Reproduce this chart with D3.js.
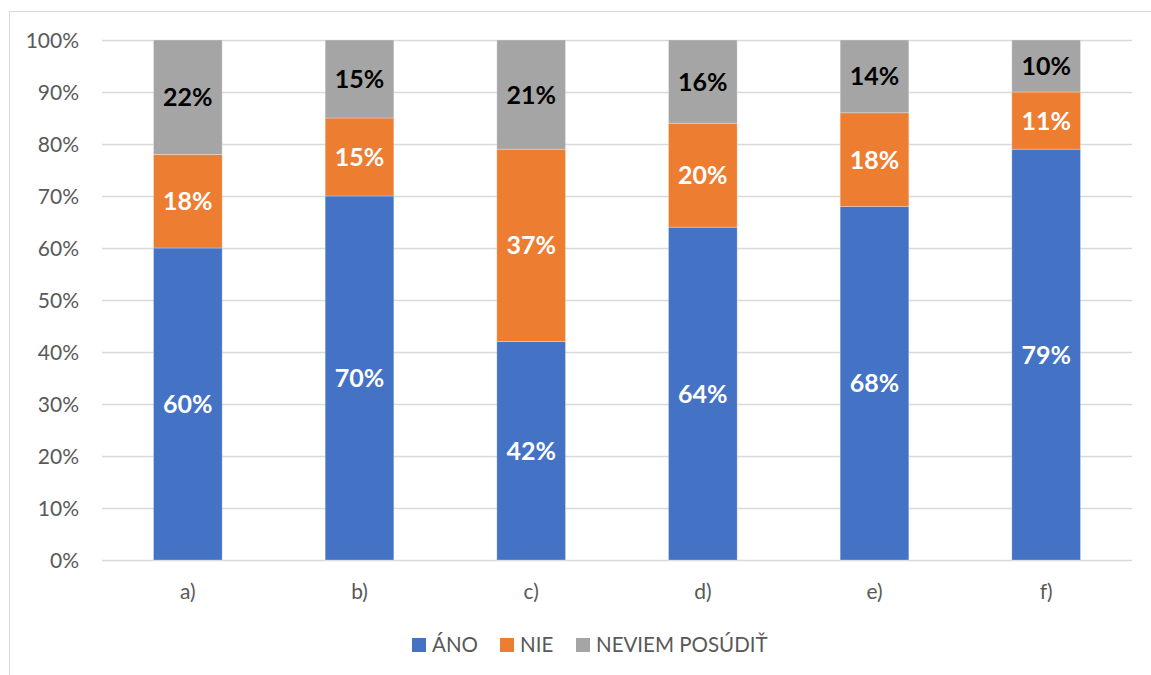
<!DOCTYPE html>
<html><head><meta charset="utf-8">
<script src="https://cdn.jsdelivr.net/npm/d3@7"></script>
<style>
html,body{margin:0;padding:0;background:#fff;}
svg{display:block;}
</style>
</head><body>
<svg id="chart" width="1151" height="675"></svg>
<script>
const categories = ["a)", "b)", "c)", "d)", "e)", "f)"];
const seriesNames = ["ÁNO", "NIE", "NEVIEM POSÚDIŤ"];
const ano = [60, 70, 42, 64, 68, 79];
const nie = [18, 15, 37, 20, 18, 11];
const neviem = [22, 15, 21, 16, 14, 10];
const yTicks = [0, 10, 20, 30, 40, 50, 60, 70, 80, 90, 100];
const colors = ["#4472C4", "#ED7D31", "#A5A5A5"];
const labelColors = ["#FFFFFF", "#FFFFFF", "#000000"];

const svg = d3.select("#chart");
const W = 1151, H = 675;
const m = {left: 102, right: 1132, top: 40, bottom: 560};

// chart border
svg.append("rect").attr("x", 9.5).attr("y", 11.5).attr("width", W).attr("height", H)
  .attr("fill", "#fff").attr("stroke", "#D9D9D9").attr("stroke-width", 1);

const x = d3.scaleBand().domain(categories).range([m.left, m.right]).paddingInner(0.6).paddingOuter(0.3);
const y = d3.scaleLinear().domain([0, 100]).range([m.bottom, m.top]);

// gridlines
svg.append("g").selectAll("line").data(yTicks).join("line")
  .attr("x1", m.left).attr("x2", m.right)
  .attr("y1", d => Math.round(y(d)) + 0.5).attr("y2", d => Math.round(y(d)) + 0.5)
  .attr("stroke", "#D9D9D9").attr("stroke-width", 1.3);

// y axis labels
const yAxis = d3.axisLeft(y).tickValues(yTicks).tickFormat(d => d + "%").tickSize(0).tickPadding(0);
const gy = svg.append("g").attr("transform", `translate(79,0)`).call(yAxis);
gy.select(".domain").remove();
gy.selectAll("text").attr("fill", "#595959").style("font-family", "Lato, 'Open Sans', sans-serif")
  .style("font-size", "21px").attr("dy", "0.35em");

// stack
const rows = categories.map((c, i) => ({cat: c, s0: ano[i], s1: nie[i], s2: neviem[i]}));
const stack = d3.stack().keys(["s0", "s1", "s2"]);
const layers = stack(rows);

const gl = svg.append("g").selectAll("g").data(layers).join("g")
  .attr("fill", (d, i) => colors[i]);
gl.selectAll("rect").data(d => d).join("rect")
  .attr("x", d => x(d.data.cat))
  .attr("width", x.bandwidth())
  .attr("y", d => y(d[1]))
  .attr("height", d => y(d[0]) - y(d[1]))
  .attr("stroke", "rgba(255,255,255,0.35)").attr("stroke-width", 0.8);

// data labels
layers.forEach((layer, li) => {
  svg.append("g").selectAll("text").data(layer).join("text")
    .attr("x", d => x(d.data.cat) + x.bandwidth() / 2)
    .attr("y", d => (y(d[0]) + y(d[1])) / 2)
    .attr("dy", "0.36em")
    .attr("text-anchor", "middle")
    .attr("fill", labelColors[li])
    .style("font-family", "Lato, 'Open Sans', sans-serif")
    .style("font-weight", "bold")
    .style("font-size", "25px")
    .text(d => (d[1] - d[0]) + "%");
});

// x axis labels
const xAxis = d3.axisBottom(x).tickSize(0).tickPadding(0);
const gx = svg.append("g").attr("transform", `translate(0,592)`).call(xAxis);
gx.select(".domain").remove();
gx.selectAll("text").attr("fill", "#595959").attr("dy", "0.35em")
  .style("font-family", "Lato, 'Open Sans', sans-serif").style("font-size", "21px");

// legend
const legendX = [412, 500, 576];
const lg = svg.append("g").selectAll("g").data(seriesNames).join("g")
  .attr("transform", (d, i) => `translate(${legendX[i]},638)`);
lg.append("rect").attr("width", 14).attr("height", 14).attr("fill", (d, i) => colors[i]);
lg.append("text").attr("x", 20).attr("y", 7).attr("dy", "0.36em")
  .attr("fill", "#595959").style("font-family", "Lato, 'Open Sans', sans-serif")
  .style("font-size", "20.5px").text(d => d);
</script>
</body></html>
